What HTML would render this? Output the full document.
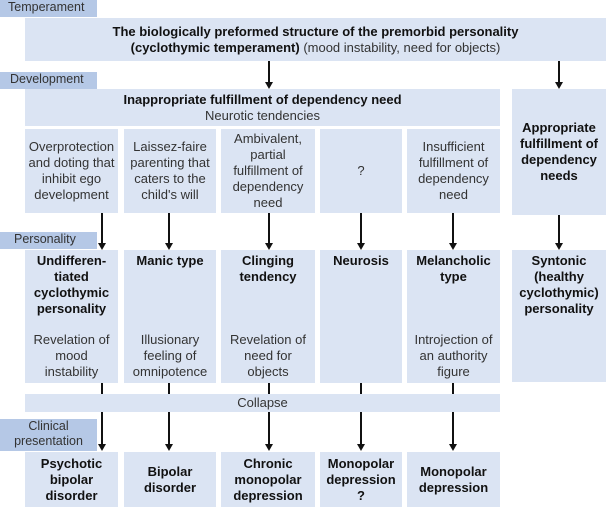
<!DOCTYPE html>
<html><head><style>
body{margin:0;width:606px;height:507px;background:#fff;position:relative;overflow:hidden;font-family:"Liberation Sans",Arial,sans-serif;color:#333;}
.b{position:absolute;background:#dbe4f3;text-align:center;font-size:13px;line-height:16px;box-sizing:border-box;padding:0 3px;}
.l{position:absolute;background:#b5c8e6;font-size:12.5px;line-height:15px;left:0;width:97px;box-sizing:border-box;color:#333;}
b{color:#111;}
.v{position:absolute;width:2px;background:#111;}
.a{position:absolute;width:0;height:0;border-left:4px solid transparent;border-right:4px solid transparent;border-top:7px solid #111;}
.c{display:flex;flex-direction:column;justify-content:center;align-items:center;}
.s{position:absolute;left:0;right:0;top:82px;padding:0 3px;}
</style></head><body>
<div class="l" style="top:0;height:17px;padding-left:8px;">Temperament</div>
<div class="b c" style="left:25px;top:18px;width:581px;height:43px;font-size:13px;"><div><b>The biologically preformed structure of the premorbid personality</b><br><b>(cyclothymic temperament)</b> (mood instability, need for objects)</div></div>
<div class="l" style="top:72px;height:17px;padding-left:10px;">Development</div>
<div class="b c" style="left:25px;top:89px;width:475px;height:37px;"><div><b>Inappropriate fulfillment of dependency need</b><br>Neurotic tendencies</div></div>
<div class="b c" style="left:512px;top:89px;width:94px;height:126px;"><b>Appropriate fulfillment of dependency needs</b></div>
<div class="b c" style="left:25px;top:129px;width:93px;height:84px;padding:0 1px;">Overprotection and doting that inhibit ego development</div>
<div class="b c" style="left:124px;top:129px;width:92px;height:84px;padding:0 1px;">Laissez-faire parenting that caters to the child's will</div>
<div class="b c" style="left:221px;top:129px;width:94px;height:84px;padding:0 12px;">Ambivalent, partial fulfillment of dependency need</div>
<div class="b c" style="left:320px;top:129px;width:82px;height:84px;">?</div>
<div class="b c" style="left:407px;top:129px;width:93px;height:84px;padding:0 8px;">Insufficient fulfillment of dependency need</div>
<div class="l" style="top:232px;height:17px;padding-left:14px;">Personality</div>
<div class="b" style="left:25px;top:250px;width:93px;height:133px;padding-top:3px;"><b>Undifferen-<br>tiated cyclothymic personality</b><div class="s" style="padding:0 6px;">Revelation of mood instability</div></div>
<div class="b" style="left:124px;top:250px;width:92px;height:133px;padding-top:3px;"><b>Manic type</b><div class="s" style="padding:0 8px;">Illusionary feeling of omnipotence</div></div>
<div class="b" style="left:221px;top:250px;width:94px;height:133px;padding-top:3px;"><b>Clinging<br>tendency</b><div class="s" style="padding:0 6px;">Revelation of need for objects</div></div>
<div class="b" style="left:320px;top:250px;width:82px;height:133px;padding-top:3px;"><b>Neurosis</b></div>
<div class="b" style="left:407px;top:250px;width:93px;height:133px;padding-top:3px;"><b>Melancholic<br>type</b><div class="s" style="padding:0 5px;">Introjection of an authority figure</div></div>
<div class="b" style="left:512px;top:250px;width:94px;height:132px;padding-top:3px;"><b>Syntonic (healthy cyclothymic) personality</b></div>
<div class="b" style="left:25px;top:394px;width:475px;height:18px;line-height:18px;">Collapse</div>
<div class="l" style="top:419px;height:32px;text-align:center;">Clinical<br>presentation</div>
<div class="b c" style="left:25px;top:452px;width:93px;height:55px;padding:0 10px;"><b>Psychotic bipolar disorder</b></div>
<div class="b c" style="left:124px;top:452px;width:92px;height:55px;"><b>Bipolar<br>disorder</b></div>
<div class="b c" style="left:221px;top:452px;width:94px;height:55px;"><b>Chronic monopolar depression</b></div>
<div class="b c" style="left:320px;top:452px;width:82px;height:55px;padding:0 1px;"><b>Monopolar depression<br>?</b></div>
<div class="b c" style="left:407px;top:452px;width:93px;height:55px;"><b>Monopolar depression</b></div>

<div class="v" style="left:268px;top:61px;height:22px;"></div><div class="a" style="left:265px;top:82px;"></div>
<div class="v" style="left:558px;top:61px;height:22px;"></div><div class="a" style="left:555px;top:82px;"></div>

<div class="v" style="left:101px;top:213px;height:30px;"></div><div class="a" style="left:98px;top:243px;"></div>
<div class="v" style="left:168px;top:213px;height:30px;"></div><div class="a" style="left:165px;top:243px;"></div>
<div class="v" style="left:268px;top:213px;height:30px;"></div><div class="a" style="left:265px;top:243px;"></div>
<div class="v" style="left:360px;top:213px;height:30px;"></div><div class="a" style="left:357px;top:243px;"></div>
<div class="v" style="left:452px;top:213px;height:30px;"></div><div class="a" style="left:449px;top:243px;"></div>
<div class="v" style="left:558px;top:215px;height:28px;"></div><div class="a" style="left:555px;top:243px;"></div>

<div class="v" style="left:101px;top:383px;height:11px;"></div>
<div class="v" style="left:168px;top:383px;height:11px;"></div>
<div class="v" style="left:268px;top:383px;height:11px;"></div>
<div class="v" style="left:360px;top:383px;height:11px;"></div>
<div class="v" style="left:452px;top:383px;height:11px;"></div>

<div class="v" style="left:101px;top:412px;height:33px;"></div><div class="a" style="left:98px;top:444px;"></div>
<div class="v" style="left:168px;top:412px;height:33px;"></div><div class="a" style="left:165px;top:444px;"></div>
<div class="v" style="left:268px;top:412px;height:33px;"></div><div class="a" style="left:265px;top:444px;"></div>
<div class="v" style="left:360px;top:412px;height:33px;"></div><div class="a" style="left:357px;top:444px;"></div>
<div class="v" style="left:452px;top:412px;height:33px;"></div><div class="a" style="left:449px;top:444px;"></div>
</body></html>
